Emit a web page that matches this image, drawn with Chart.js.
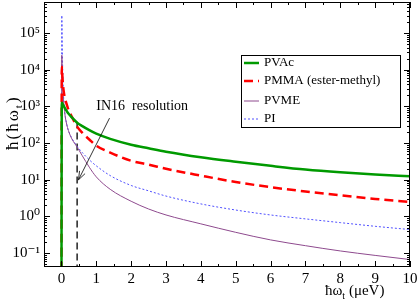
<!DOCTYPE html>
<html>
<head>
<meta charset="utf-8">
<script src="https://cdn.jsdelivr.net/npm/chart.js@4.4.0/dist/chart.umd.min.js"></script>
<style>
html, body { margin: 0; padding: 0; background: #fff; }
#wrap { width: 419px; height: 307px; }
</style>
</head>
<body>
<div id="wrap"><canvas id="chart"></canvas></div>
<script>
// Values (0.001 stands for "zero", below the axis)
const energies = [0, 0.01, 0.03, 0.06, 0.1, 0.15, 0.2, 0.3, 0.45, 0.6, 0.8, 1, 1.4, 2, 2.5, 3, 4, 5, 6, 7, 8, 9, 10];
const pvac = [0.001, 1250, 1180, 1050, 900, 750, 640, 500, 360, 290, 225, 180, 130, 90, 72, 58, 41, 31, 24, 19, 16, 14, 12.5];
const pmma = [0.001, 12000, 6000, 2800, 1700, 1150, 820, 520, 280, 190, 125, 85, 55, 33, 26, 20, 13, 8.7, 6.3, 4.8, 3.8, 3.0, 2.5];
const pvme = [0.001, 25000, 5000, 1500, 600, 330, 220, 130, 78, 45, 22, 12, 5.5, 2.6, 1.6, 1.1, 0.63, 0.37, 0.23, 0.16, 0.115, 0.087, 0.067];
const pi = [0.001, 300000, 20000, 2000, 650, 330, 220, 135, 82, 55, 35, 24, 13, 7, 5, 3.6, 2.2, 1.5, 1.1, 0.86, 0.68, 0.54, 0.44];
const seriesNames = ['PVAc', 'PMMA (ester-methyl)', 'PVME', 'PI'];
const resolutionX = [0.45, 0.45];
const resolutionY = [0.001, 380];
const xTicks = [0, 1, 2, 3, 4, 5, 6, 7, 8, 9, 10];
const yTicks = [0.1, 1, 10, 100, 1000, 10000, 100000];

const SERIF = '"Liberation Serif", "DejaVu Serif", serif';
const sup = { '0': '⁰', '1': '¹', '2': '²', '3': '³', '4': '⁴', '5': '⁵', '6': '⁶', '7': '⁷', '8': '⁸', '9': '⁹', '-': '⁻' };

function points(ys, xs) {
    return ys.map((y, i) => ({ x: (xs || energies)[i], y: y }));
}

const styles = [
    { color: '#009a00', width: 2.5, dash: [] },
    { color: '#ff0000', width: 2.5, dash: [9, 5] },
    { color: '#8e4a8e', width: 1, dash: [] },
    { color: '#5050ff', width: 1, dash: [2, 2] }
];

const datasets = [pvac, pmma, pvme, pi].map((ys, i) => ({
    label: seriesNames[i],
    data: points(ys),
    borderColor: styles[i].color,
    borderWidth: styles[i].width,
    borderDash: styles[i].dash,
    pointRadius: 0,
    cubicInterpolationMode: 'monotone',
    fill: false
}));
datasets.push({
    label: 'IN16',
    data: points(resolutionY, resolutionX),
    borderColor: '#000',
    borderWidth: 1.3,
    borderDash: [7, 4],
    pointRadius: 0
});

// frame, inward ticks, legend, annotation, axis titles
const decorations = {
    id: 'decorations',
    afterDraw(chart) {
        const ctx = chart.ctx;
        const a = chart.chartArea;
        const xs = chart.scales.x, ys = chart.scales.y;
        ctx.save();
        ctx.strokeStyle = '#000';
        ctx.lineWidth = 1;
        ctx.setLineDash([]);
        ctx.strokeRect(a.left + 0.5, a.top + 0.5, a.right - a.left - 1, a.bottom - a.top - 1);

        ctx.beginPath();
        for (let v = -0.5; v <= 10; v += 0.5) {
            const px = Math.round(xs.getPixelForValue(v)) + 0.5;
            const len = Number.isInteger(v) ? 6 : 3;
            ctx.moveTo(px, a.bottom); ctx.lineTo(px, a.bottom - len);
            ctx.moveTo(px, a.top); ctx.lineTo(px, a.top + len);
        }
        for (let e = -2; e <= 5; e++) {
            for (let m = 1; m <= 9; m++) {
                const v = m * Math.pow(10, e);
                if (v < ys.min || v > ys.max) continue;
                const py = Math.round(ys.getPixelForValue(v)) + 0.5;
                const len = m === 1 ? 6 : 3;
                ctx.moveTo(a.left, py); ctx.lineTo(a.left + len, py);
                ctx.moveTo(a.right, py); ctx.lineTo(a.right - len, py);
            }
        }
        ctx.stroke();

        // legend
        const lx = 241, ly = 55, lw = 159, lh = 72;
        ctx.fillStyle = '#fff';
        ctx.fillRect(lx, ly, lw, lh);
        ctx.strokeRect(lx + 0.5, ly + 0.5, lw, lh);
        ctx.font = '13px ' + SERIF;
        ctx.textBaseline = 'middle';
        const rows = [63, 81, 101, 119];
        seriesNames.forEach((name, i) => {
            ctx.strokeStyle = styles[i].color;
            ctx.lineWidth = styles[i].width;
            ctx.setLineDash(styles[i].dash);
            ctx.beginPath();
            ctx.moveTo(244, rows[i]); ctx.lineTo(259, rows[i]);
            ctx.stroke();
            ctx.fillStyle = '#000';
            ctx.fillText(name, 264, rows[i]);
        });

        // annotation
        ctx.setLineDash([]);
        ctx.strokeStyle = '#000';
        ctx.lineWidth = 0.8;
        ctx.font = '14px ' + SERIF;
        ctx.textBaseline = 'alphabetic';
        ctx.fillStyle = '#000';
        ctx.fillText('IN16  resolution', xs.getPixelForValue(1.0), ys.getPixelForValue(800));
        const x0 = xs.getPixelForValue(1.38), y0 = ys.getPixelForValue(480);
        const x1 = xs.getPixelForValue(0.49), y1 = ys.getPixelForValue(10);
        ctx.beginPath();
        ctx.moveTo(x0, y0); ctx.lineTo(x1, y1);
        const ang = Math.atan2(y1 - y0, x1 - x0);
        ctx.moveTo(x1 - 9 * Math.cos(ang - 0.35), y1 - 9 * Math.sin(ang - 0.35));
        ctx.lineTo(x1, y1);
        ctx.lineTo(x1 - 9 * Math.cos(ang + 0.35), y1 - 9 * Math.sin(ang + 0.35));
        ctx.stroke();

        // axis titles with subscript t
        ctx.font = '15px ' + SERIF;
        ctx.textBaseline = 'alphabetic';
        ctx.textAlign = 'left';
        let tx = 325, ty = 295;
        ctx.fillText('ħω', tx, ty);
        tx += ctx.measureText('ħω').width;
        ctx.font = '10px ' + SERIF;
        ctx.fillText('t', tx, ty + 4);
        tx += ctx.measureText('t').width;
        ctx.font = '15px ' + SERIF;
        ctx.fillText(' (μeV)', tx, ty);

        ctx.translate(18, 150);
        ctx.rotate(-Math.PI / 2);
        ctx.font = '17px ' + SERIF;
        ctx.letterSpacing = '2px';
        let t = 0;
        ctx.fillText('ħ(ħω', t, 0);
        t += ctx.measureText('ħ(ħω').width;
        ctx.font = '11px ' + SERIF;
        ctx.fillText('t', t, 4);
        t += ctx.measureText('t').width;
        ctx.font = '17px ' + SERIF;
        ctx.fillText(')', t, 0);
        ctx.restore();
    }
};

new Chart(document.getElementById('chart'), {
    type: 'line',
    data: { datasets: datasets },
    options: {
        responsive: true,
        maintainAspectRatio: false,
        animation: false,
        layout: { padding: { top: 2, right: 9, left: 0, bottom: 0 } },
        plugins: { legend: { display: false }, tooltip: { enabled: false } },
        scales: {
            x: {
                type: 'linear',
                min: -0.5,
                max: 10,
                grid: { display: false, drawTicks: false },
                border: { display: false },
                afterBuildTicks: (s) => { s.ticks = xTicks.map(v => ({ value: v })); },
                afterFit: (s) => { s.height = 40; s.paddingLeft = 0; s.paddingRight = 0; },
                ticks: { padding: 3, color: '#000', font: { family: SERIF, size: 15 }, maxRotation: 0 }
            },
            y: {
                type: 'logarithmic',
                min: 0.042,
                max: 700000,
                grid: { display: false, drawTicks: false },
                border: { display: false },
                afterBuildTicks: (s) => { s.ticks = yTicks.map(v => ({ value: v })); },
                afterFit: (s) => { s.width = 44; s.paddingTop = 0; s.paddingBottom = 0; },
                ticks: {
                    padding: 4,
                    color: '#000',
                    font: { family: SERIF, size: 15 },
                    callback: (v) => '10' + String(Math.round(Math.log10(v))).split('').map(c => sup[c]).join('')
                }
            }
        }
    },
    plugins: [decorations]
});
</script>
</body>
</html>
